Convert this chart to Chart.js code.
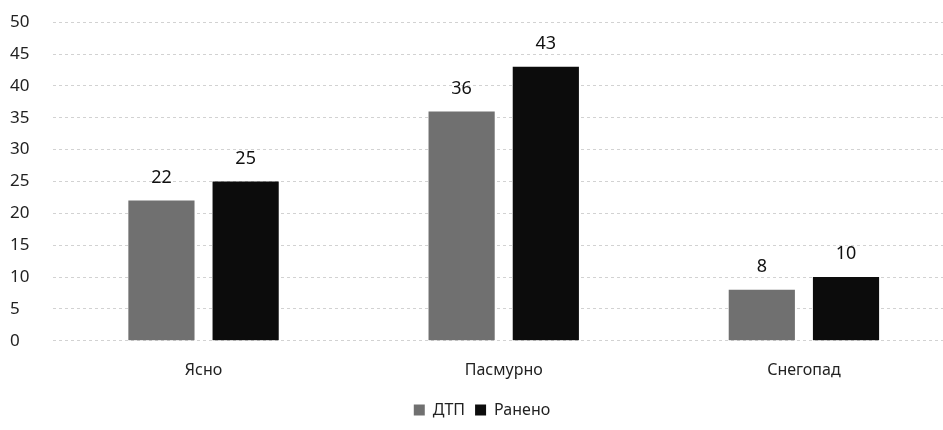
<!DOCTYPE html>
<html>
<head>
<meta charset="utf-8">
<script src="https://cdn.jsdelivr.net/npm/chart.js@4/dist/chart.umd.min.js"></script>
<style>
  html, body { margin: 0; padding: 0; background: #fff; overflow: hidden; }
  #wrap { width: 954px; height: 430px; }
</style>
</head>
<body>
<div id="wrap"><canvas id="weatherChart"></canvas></div>
<script>
const categories = ["Ясно", "Пасмурно", "Снегопад"];
const dtp = [22, 36, 8];
const injured = [25, 43, 10];

// draws the number above each bar
const barValues = {
  id: "barValues",
  afterDatasetsDraw(chart) {
    const ctx = chart.ctx;
    ctx.save();
    ctx.font = "18px 'Noto Sans', sans-serif";
    ctx.fillStyle = "#111";
    ctx.textAlign = "center";
    ctx.textBaseline = "middle";
    chart.data.datasets.forEach((ds, i) => {
      chart.getDatasetMeta(i).data.forEach((bar, j) => {
        ctx.fillText(ds.data[j], bar.x, bar.y - 23);
      });
    });
    ctx.restore();
  },
};

Chart.defaults.font.family = "'Noto Sans', sans-serif";
Chart.defaults.color = "#222";

new Chart(document.getElementById("weatherChart"), {
  type: "bar",
  data: {
    labels: categories,
    datasets: [
      {
        label: "ДТП",
        data: dtp,
        backgroundColor: "#707070",
      },
      {
        label: "Ранено",
        data: injured,
        backgroundColor: "#0c0c0c",
      },
    ],
  },
  options: {
    responsive: true,
    maintainAspectRatio: false,
    animation: false,
    categoryPercentage: 0.561,
    barPercentage: 0.786,
    layout: { padding: { top: 13, right: 0, left: 10, bottom: 2 } },
    plugins: {
      tooltip: { enabled: false },
      legend: {
        position: "bottom",
        labels: {
          boxWidth: 11,
          boxHeight: 11,
          padding: 10,
          font: { size: 16 },
        },
      },
    },
    scales: {
      x: {
        grid: { display: false },
        border: { display: false },
        ticks: { font: { size: 16 }, padding: 12 },
      },
      y: {
        min: 0,
        max: 50,
        ticks: { stepSize: 5, font: { size: 17 }, padding: 12, crossAlign: "far" },
        border: { display: false, dash: [3, 3] },
        grid: { color: "#d2d2d2", drawTicks: false },
      },
    },
  },
  plugins: [barValues],
});
</script>
</body>
</html>
